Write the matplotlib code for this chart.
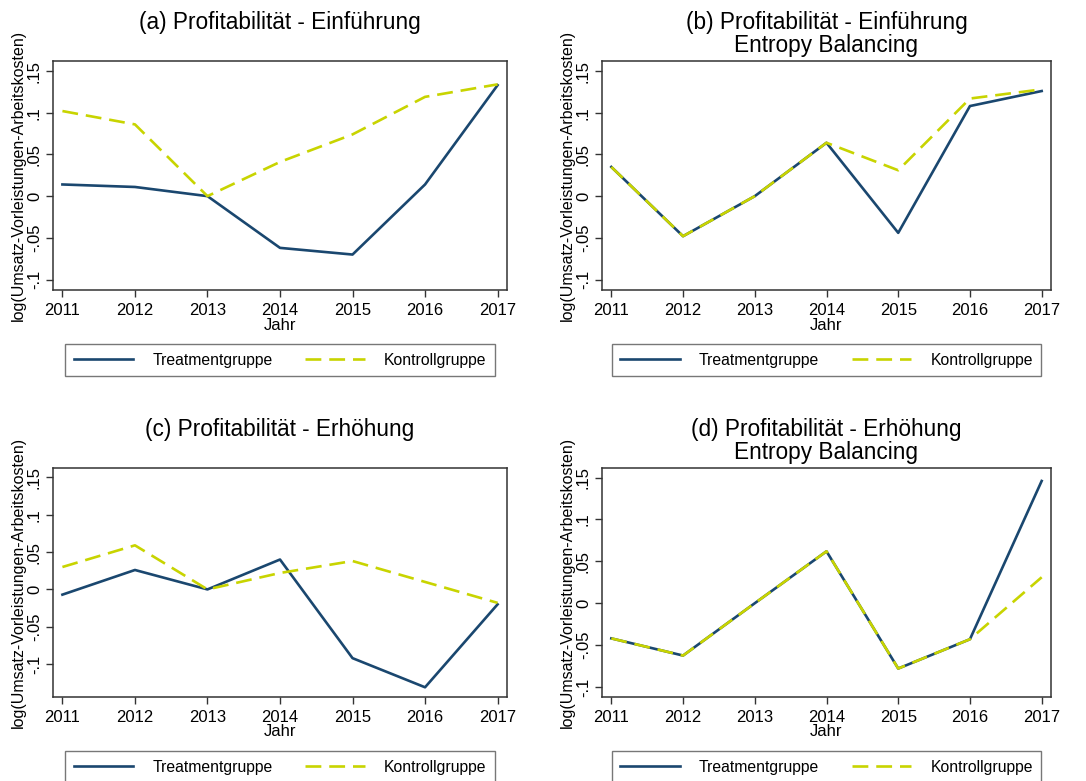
#!/usr/bin/env python3

import matplotlib
matplotlib.use("Agg")
import matplotlib.pyplot as plt

plt.rcParams['font.family'] = ['Liberation Sans', 'DejaVu Sans']

years = [2011, 2012, 2013, 2014, 2015, 2016, 2017]

# (a) Einfuehrung
treat_a = [0.014, 0.011, 0.000, -0.062, -0.070, 0.014, 0.133]
ctrl_a = [0.102, 0.086, 0.000, 0.041, 0.074, 0.119, 0.134]
# (b) Einfuehrung, Entropy Balancing
treat_b = [0.035, -0.048, 0.000, 0.064, -0.044, 0.108, 0.126]
ctrl_b = [0.035, -0.048, 0.000, 0.064, 0.031, 0.117, 0.128]
# (c) Erhoehung
treat_c = [-0.007, 0.026, 0.000, 0.040, -0.092, -0.131, -0.020]
ctrl_c = [0.030, 0.059, 0.000, 0.022, 0.038, 0.010, -0.018]
# (d) Erhoehung, Entropy Balancing
treat_d = [-0.042, -0.0625, 0.000, 0.062, -0.078, -0.043, 0.146]
ctrl_d = [-0.042, -0.0625, 0.000, 0.062, -0.078, -0.043, 0.031]

titles = ["(a) Profitabilität - Einführung",
          "(b) Profitabilität - Einführung\nEntropy Balancing",
          "(c) Profitabilität - Erhöhung",
          "(d) Profitabilität - Erhöhung\nEntropy Balancing"]
yticks = [-0.1, -0.05, 0, 0.05, 0.1, 0.15]
ytick_labels = ["-.1", "-.05", "0", ".05", ".1", ".15"]
ylims = [(-0.1125, 0.162), (-0.1125, 0.162), (-0.144, 0.1625), (-0.112, 0.1615)]

navy = '#1a476f'
lime = '#c8d400'
W, H = 1086, 781

fig = plt.figure(figsize=(W / 100, H / 100), dpi=100)

# axes boxes in pixels: left, top, right, bottom
boxes = [(53, 61, 507, 290), (602, 61, 1051, 290),
         (53, 468, 507, 697), (602, 468, 1051, 697)]
panels = [(treat_a, ctrl_a), (treat_b, ctrl_b), (treat_c, ctrl_c), (treat_d, ctrl_d)]

for i, (box, (tr, ct)) in enumerate(zip(boxes, panels)):
    l, t, r, b = box
    ax = fig.add_axes([l / W, 1 - b / H, (r - l) / W, (b - t) / H])
    ax.plot(years, tr, color=navy, lw=1.9, label="Treatmentgruppe")
    ax.plot(years, ct, color=lime, lw=1.9, dashes=(6, 3), label="Kontrollgruppe")
    ax.set_xlim(2010.87, 2017.13)
    ax.set_ylim(*ylims[i])
    ax.set_xticks(years)
    ax.set_xticklabels([str(y) for y in years], fontsize=12)
    ax.set_yticks(yticks)
    ax.set_yticklabels(ytick_labels, fontsize=12, rotation=90, va='center')
    ax.tick_params(axis='x', length=5, width=1, color='#333333', pad=4)
    ax.tick_params(axis='y', length=5, width=1, color='#333333', pad=3)
    for s in ax.spines.values():
        s.set_color('#333333')
        s.set_linewidth(1.1)
    ax.set_xlabel("Jahr", fontsize=12, labelpad=0)
    ax.set_ylabel("log(Umsatz-Vorleistungen-Arbeitskosten)", fontsize=11.5)
    ax.yaxis.set_label_coords(-0.06, 0.5)
    ytitle = 1.17 if "\n" not in titles[i] else 1.12
    ax.text(0.5, ytitle, titles[i], transform=ax.transAxes, ha='center', va='center',
            fontsize=16.3, linespacing=1.0)
    leg = ax.legend(loc='center', bbox_to_anchor=(0.5, -0.306), ncol=2, fontsize=11.3,
                    frameon=True, fancybox=False, edgecolor='#555555', borderpad=0.55,
                    handlelength=3.8, handletextpad=1.2, columnspacing=2.1)
    leg.get_frame().set_linewidth(1.0)

fig.savefig("out.png", dpi=100)
